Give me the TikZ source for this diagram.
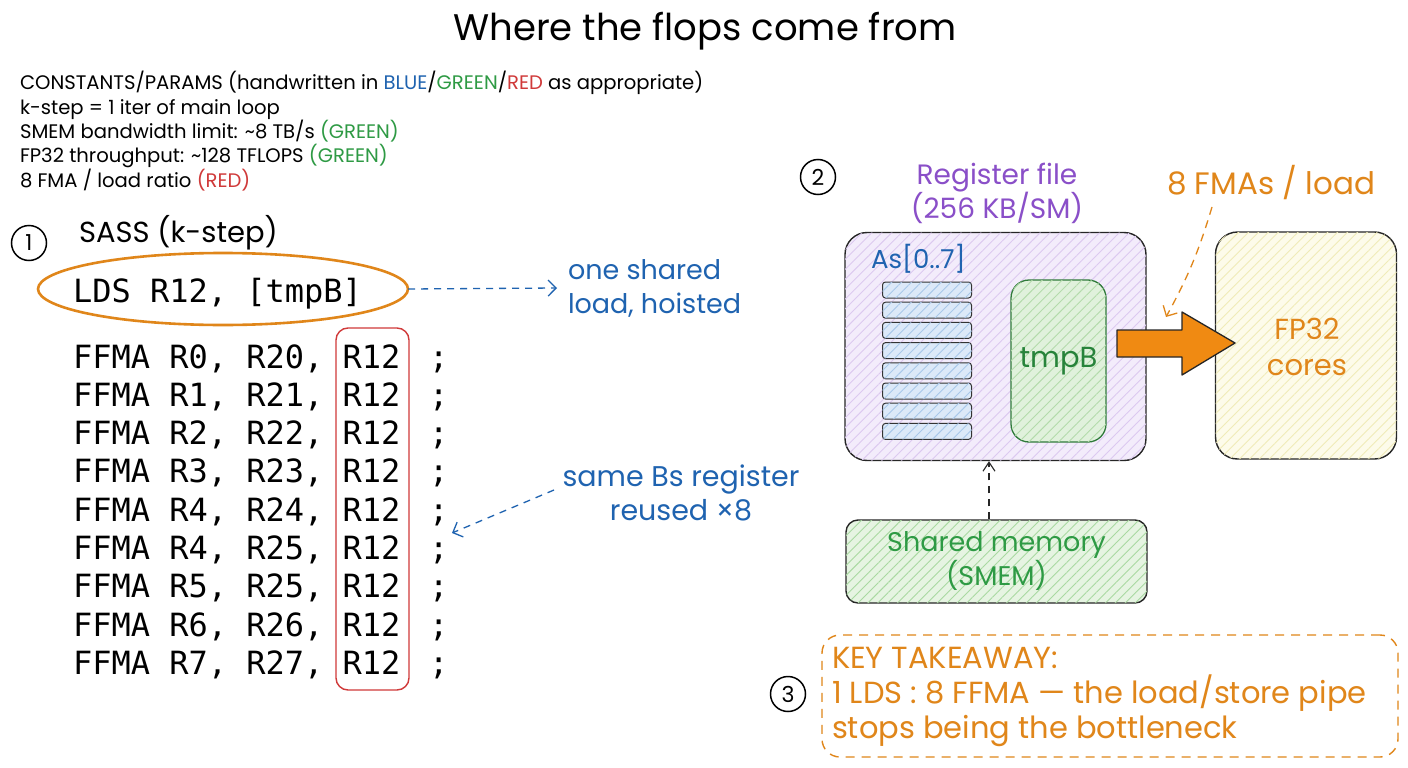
\documentclass[tikz,border=0pt]{standalone}
\usepackage{fontspec}
\setmainfont{Poppins}
\newfontfamily\codefont{DejaVu Sans Mono}
\usetikzlibrary{arrows.meta,patterns.meta}
\definecolor{hblue}{HTML}{1F63B0}
\definecolor{hgreen}{HTML}{2E9A44}
\definecolor{hred}{HTML}{D03A3A}
\definecolor{horange}{HTML}{E0861A}
\definecolor{arrorange}{HTML}{F08A12}
\definecolor{hpurple}{HTML}{8A4FC8}
\definecolor{regfill}{HTML}{F3ECFB}
\definecolor{reghatch}{HTML}{DCC9F0}
\definecolor{barfill}{HTML}{DCE9F8}
\definecolor{barhatch}{HTML}{A9C8EA}
\definecolor{tmpfill}{HTML}{E0F1DC}
\definecolor{tmphatch}{HTML}{B3DBAB}
\definecolor{tmpdraw}{HTML}{2F7A3A}
\definecolor{fpfill}{HTML}{FDFBEA}
\definecolor{fphatch}{HTML}{F0EBB8}
\definecolor{smfill}{HTML}{E6F4E2}
\definecolor{smhatch}{HTML}{A9D9A1}
\tikzset{
  txt/.style={inner sep=0pt, outer sep=0pt},
  code/.style={txt, font=\codefont\fontsize{32}{38}\selectfont, anchor=base west},
  cnst/.style={txt, font=\fontsize{19.6}{24}\selectfont, anchor=base west},
  numcirc/.style={circle, draw, line width=1.5pt, minimum size=35pt, inner sep=0pt, font=\fontsize{22}{22}\selectfont},
  hatch/.style 2 args={fill=#1, postaction={pattern={Lines[angle=45,distance=7pt,line width=0.9pt]}, pattern color=#2}},
  blockbox/.style={draw=black!85, line width=1.4pt, rounded corners=22pt, inner sep=0pt},
  dasharrow/.style={dash pattern=on 7pt off 6pt, line width=1.3pt, -{Straight Barb[length=8pt,width=16pt]}},
  bigtxt/.style={txt, font=\fontsize{27}{34}\selectfont, align=center},
}
\begin{document}
\begin{tikzpicture}[x=1pt, y=-1pt]
\useasboundingbox (0,0) rectangle (1408,768);
\fill[white] (0,0) rectangle (1408,768);

% title
\node[txt, font=\fontsize{37}{42}\selectfont] (title) at (705,31) {Where the flops come from};

% constants
\node[cnst] (c1) at (20,89) {CONSTANTS/PARAMS (handwritten in \textcolor{hblue}{BLUE}/\textcolor{hgreen}{GREEN}/\textcolor{hred}{RED} as appropriate)};
\node[cnst] (c2) at (20,114) {k-step = 1 iter of main loop};
\node[cnst] (c3) at (20,138) {SMEM bandwidth limit: \textasciitilde8 TB/s \textcolor{hgreen}{(GREEN)}};
\node[cnst] (c4) at (20,162) {FP32 throughput: \textasciitilde128 TFLOPS \textcolor{hgreen}{(GREEN)}};
\node[cnst] (c5) at (20,187) {8 FMA / load ratio \textcolor{hred}{(RED)}};

% section 1
\node[numcirc] (n1) at (29,243) {1};
\node[txt, font=\fontsize{29}{32}\selectfont, anchor=west] (sass) at (79,233) {SASS (k-step)};
\draw[horange, line width=2.6pt] (223,289) ellipse [x radius=185, y radius=36];
\node[txt, minimum width=370pt, minimum height=72pt] (ldsell) at (223,289) {};
\node[code] (lds) at (73,302) {LDS R12, [tmpB]};

\foreach \a/\b [count=\i from 0] in {R0/R20,R1/R21,R2/R22,R3/R23,R4/R24,R4/R25,R5/R25,R6/R26,R7/R27}{
  \node[code] (ffma\i) at (73,368+38.3*\i) {FFMA \a, \b, R12};
  \node[code] (semi\i) at (429,368+38.3*\i) {;};
}
\draw[hred, line width=1.4pt, rounded corners=12pt] (336,328) rectangle (409,690);

\node[bigtxt, text=hblue, anchor=west, align=left] (oneshared) at (568,288) {one shared\\load, hoisted};
\draw[hblue, dasharrow] (ldsell.east) -- (oneshared.west -| 557,0);

\node[bigtxt, font=\fontsize{28.5}{34}\selectfont, text=hblue] (sameBs) at (681,493) {same Bs register\\reused ×8};
\coordinate (bstip) at (452,533);
\coordinate (bsstart) at (554,490);
\draw[hblue, dasharrow] (bsstart) -- (bstip);

% section 2
\node[numcirc] (n2) at (818,177) {2};
\node[bigtxt, font=\fontsize{28}{34}\selectfont, text=hpurple] (regtitle) at (997,193) {Register file\\(256 KB/SM)};
\node[blockbox, hatch={regfill}{reghatch}, minimum width=301pt, minimum height=228pt] (regfile) at (995.5,346.5) {};
\node[txt, font=\fontsize{26}{30}\selectfont, text=hblue, anchor=west] (asl) at (871,259) {As[0..7]};
\foreach \i in {0,...,7}{
  \node[draw=black!80, line width=1pt, rounded corners=3pt, hatch={barfill}{barhatch}, minimum width=89pt, minimum height=16pt, inner sep=0pt] (bar\i) at (927,290+20.2*\i) {};
}
\node[draw=tmpdraw, line width=1.3pt, rounded corners=18pt, hatch={tmpfill}{tmphatch}, minimum width=95pt, minimum height=162pt, inner sep=0pt] (tmpb) at (1058.5,361) {};
\node[txt, font=\fontsize{29}{32}\selectfont, text=hgreen!85!black] (tmpbl) at (1058.5,361) {tmpB};

\node[blockbox, hatch={fpfill}{fphatch}, minimum width=181pt, minimum height=227pt] (fp32) at (1306,345.5) {};
\node[bigtxt, font=\fontsize{29}{36}\selectfont, text=horange] (fplabel) at (1307,347) {FP32\\cores};

\node[txt, font=\fontsize{31}{34}\selectfont, text=horange] (fmas) at (1271,183) {8 FMAs / load};
\coordinate (fmastart) at (1212,207);
\coordinate (fmaend) at (1166,317);
\draw[horange, dasharrow, dash pattern=on 8pt off 6pt] (fmastart) to[bend left=6] (fmaend);

\draw[fill=arrorange, draw=black!85, line width=1.3pt, line join=round]
  (1117,330) -- (1182,330) -- (1182,312) -- (1235,343) -- (1182,375) -- (1182,357) -- (1117,357) -- cycle;

\node[blockbox, rounded corners=12pt, hatch={smfill}{smhatch}, minimum width=301pt, minimum height=83pt] (smem) at (996.5,561.5) {};
\node[bigtxt, text=hgreen] (smeml) at (996.5,561) {Shared memory\\(SMEM)};
\draw[black!85, dasharrow, dash pattern=on 7pt off 6pt, line width=1.1pt, -{Straight Barb[length=9pt,width=12pt]}] (smem.north -| 989,0) -- (regfile.south -| 989,0);

% section 3
\node[numcirc] (n3) at (788,694) {3};
\node[draw=horange, dash pattern=on 9pt off 7pt, line width=1.4pt, rounded corners=18pt, minimum width=576pt, minimum height=122pt, inner sep=0pt] (takeaway) at (1110,696) {};
\node[txt, font=\fontsize{30.5}{35}\selectfont, text=horange, anchor=west, align=left] (taketext) at (832,697) {KEY TAKEAWAY:\\1 LDS : 8 FFMA — the load/store pipe\\stops being the bottleneck};
\end{tikzpicture}
\end{document}
